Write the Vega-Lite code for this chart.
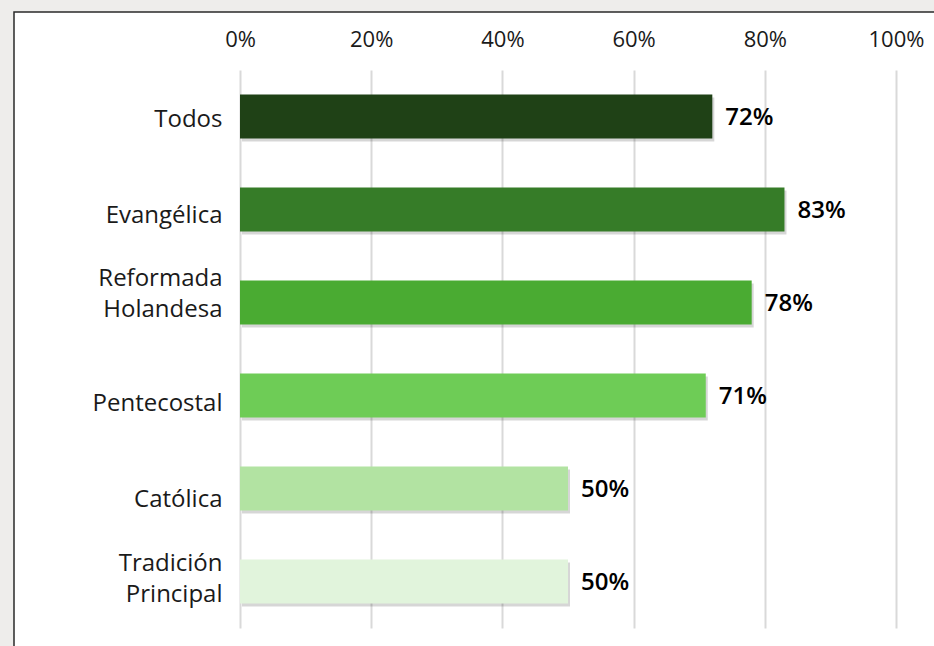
{
  "$schema": "https://vega.github.io/schema/vega-lite/v6.json",
  "width": 922,
  "height": 638,
  "autosize": {"type": "none"},
  "padding": {"left": 14, "top": 12, "right": -2, "bottom": -4},
  "background": "#eeedeb",
  "config": {
    "view": {"fill": "#ffffff", "stroke": "#2a2a2a", "strokeWidth": 1.5},
    "font": "Open Sans",
    "axis": {"labelFont": "Open Sans", "labelColor": "#1a1a1a"}
  },
  "data": {
    "values": [
      {"grupo": "Todos", "valor": 0.72},
      {"grupo": "Evangélica", "valor": 0.83},
      {"grupo": "Reformada Holandesa", "valor": 0.78},
      {"grupo": "Pentecostal", "valor": 0.71},
      {"grupo": "Católica", "valor": 0.50},
      {"grupo": "Tradición Principal", "valor": 0.50}
    ]
  },
  "encoding": {
    "y": {
      "field": "grupo",
      "type": "nominal",
      "sort": null,
      "scale": {"range": [58, 616], "paddingInner": 0.527, "paddingOuter": 0.2635},
      "axis": {
        "title": null,
        "orient": "left",
        "offset": -226,
        "domain": false,
        "ticks": false,
        "grid": false,
        "labelPadding": 18,
        "labelFontSize": 24,
        "labelLineHeight": 31,
        "labelExpr": "split(datum.label, ' ')",
        "labelOffset": {
          "condition": [
            {"test": "datum.value === 'Evangélica'", "value": 6},
            {"test": "datum.value === 'Reformada Holandesa'", "value": -24},
            {"test": "datum.value === 'Pentecostal'", "value": 8},
            {"test": "datum.value === 'Católica'", "value": 11},
            {"test": "datum.value === 'Tradición Principal'", "value": -18}
          ],
          "value": 3
        }
      }
    },
    "x": {
      "field": "valor",
      "type": "quantitative",
      "scale": {"domain": [0, 1], "range": [226, 882], "nice": false, "zero": true},
      "axis": {
        "title": null,
        "orient": "top",
        "offset": -58,
        "values": [0, 0.2, 0.4, 0.6, 0.8, 1],
        "format": ".0%",
        "domain": false,
        "ticks": false,
        "grid": true,
        "gridColor": "#d9d9d9",
        "gridWidth": 2,
        "labelFlush": false,
        "labelPadding": 19,
        "labelFontSize": 22
      }
    }
  },
  "layer": [
    {
      "mark": {"type": "bar", "color": "#000000", "opacity": 0.16, "xOffset": 2, "yOffset": 3}
    },
    {
      "mark": {"type": "bar"},
      "encoding": {
        "color": {
          "field": "grupo",
          "type": "nominal",
          "legend": null,
          "scale": {
            "domain": ["Todos", "Evangélica", "Reformada Holandesa", "Pentecostal", "Católica", "Tradición Principal"],
            "range": ["#1f4116", "#367c28", "#4aab32", "#6ecc56", "#b2e3a2", "#e1f4dc"]
          }
        }
      }
    },
    {
      "mark": {"type": "text", "align": "left", "baseline": "middle", "dx": 13, "dy": 1, "fontSize": 24, "fontWeight": 600, "font": "Open Sans", "color": "#000000"},
      "encoding": {
        "text": {"field": "valor", "type": "quantitative", "format": ".0%"}
      }
    }
  ]
}
